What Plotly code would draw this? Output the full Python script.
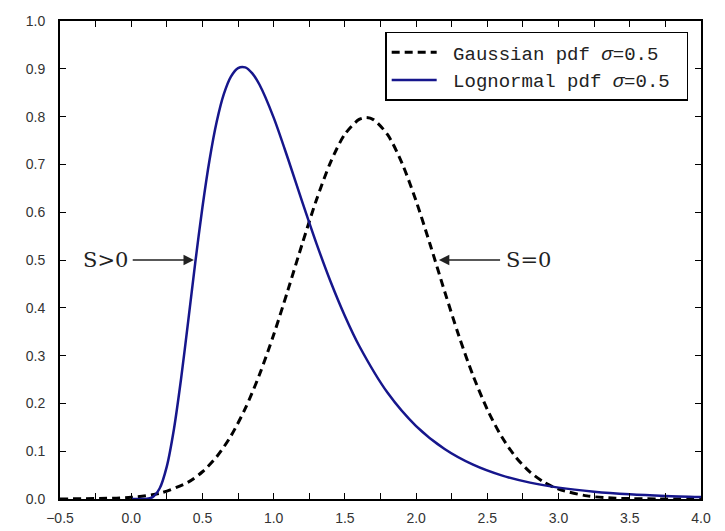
import plotly.graph_objects as go

# Gaussian pdf (sigma = 0.5)
gauss_x = [-0.5, 0.0, 0.2, 0.4, 0.5, 0.6, 0.7, 0.8, 0.9, 1.0, 1.1, 1.2, 1.3, 1.4, 1.5,
           1.6, 1.65, 1.7, 1.8, 1.9, 2.0, 2.1, 2.2, 2.3, 2.4, 2.5, 2.6, 2.7, 2.8, 2.9,
           3.0, 3.2, 3.4, 3.7, 4.0]
gauss_y = [0.0001, 0.0035, 0.0120, 0.0353, 0.0570, 0.0884, 0.1319, 0.1889, 0.2598, 0.3437,
           0.4369, 0.5334, 0.6256, 0.7049, 0.7633, 0.7941, 0.7979, 0.7937, 0.7622, 0.7033,
           0.6234, 0.5309, 0.4345, 0.3416, 0.2580, 0.1873, 0.1306, 0.0875, 0.0563, 0.0348,
           0.0207, 0.0065, 0.0017, 0.0002, 0.0000]

# Lognormal pdf (sigma = 0.5)
logn_x = [0.0, 0.05, 0.1, 0.15, 0.2, 0.25, 0.3, 0.35, 0.4, 0.45, 0.5, 0.55, 0.6, 0.65,
          0.7, 0.75, 0.8, 0.85, 0.9, 1.0, 1.1, 1.2, 1.3, 1.4, 1.5, 1.6, 1.8, 2.0, 2.2,
          2.4, 2.6, 2.8, 3.0, 3.25, 3.5, 3.75, 4.0]
logn_y = [0.0, 0.0, 0.0002, 0.0040, 0.0225, 0.0683, 0.1465, 0.2515, 0.3720, 0.4954,
          0.6104, 0.7098, 0.7891, 0.8469, 0.8837, 0.9015, 0.9029, 0.8905, 0.8671, 0.7979,
          0.7123, 0.6222, 0.5349, 0.4545, 0.3829, 0.3206, 0.2221, 0.1526, 0.1046, 0.0718,
          0.0494, 0.0342, 0.0238, 0.0153, 0.0099, 0.0065, 0.0043]

x_ticks = [-0.5, 0.0, 0.5, 1.0, 1.5, 2.0, 2.5, 3.0, 3.5, 4.0]
y_ticks = [0.0, 0.1, 0.2, 0.3, 0.4, 0.5, 0.6, 0.7, 0.8, 0.9, 1.0]

NB = "\u00a0"

fig = go.Figure()
fig.add_trace(go.Scatter(
    x=gauss_x, y=gauss_y, mode="lines", name=NB + "Gaussian pdf <i>σ</i>=0.5" + NB,
    line=dict(color="black", width=3, dash="8px,5px", shape="spline", smoothing=0.8),
))
fig.add_trace(go.Scatter(
    x=logn_x, y=logn_y, mode="lines", name=NB + "Lognormal pdf <i>σ</i>=0.5" + NB,
    line=dict(color="#16168c", width=2.5, shape="spline", smoothing=0.8),
))

serif = "DejaVu Serif"
# arrows
fig.add_annotation(x=0.44, y=0.5, ax=0.0, ay=0.5, xref="x", yref="y", axref="x", ayref="y",
                   showarrow=True, arrowhead=2, arrowsize=1.6, arrowwidth=1.3,
                   arrowcolor="#222", text="")
fig.add_annotation(x=2.16, y=0.5, ax=2.6, ay=0.5, xref="x", yref="y", axref="x", ayref="y",
                   showarrow=True, arrowhead=2, arrowsize=1.6, arrowwidth=1.3,
                   arrowcolor="#222", text="")
fig.add_annotation(x=-0.01, y=0.5, xref="x", yref="y", text="S>0", showarrow=False,
                   xanchor="right", font=dict(family=serif, size=21, color="#222"))
fig.add_annotation(x=2.62, y=0.5, xref="x", yref="y", text="S=0", showarrow=False,
                   xanchor="left", font=dict(family=serif, size=21, color="#222"))

axis_common = dict(
    showline=True, linecolor="black", linewidth=2, mirror="ticks",
    ticks="inside", ticklen=6, tickwidth=1.2, tickcolor="black",
    showgrid=False, zeroline=False, automargin=False,
    tickfont=dict(family="Liberation Sans", size=14, color="#333"),
)
fig.update_xaxes(range=[-0.5, 4.0], tickvals=x_ticks, tickformat=".1f", ticklabelstandoff=5,
                 minor=dict(dtick=0.25, ticks="inside", ticklen=6, tickcolor="black", tickwidth=1.2),
                 **axis_common)
fig.update_yaxes(range=[0.0, 1.0], tickvals=y_ticks, tickformat=".1f", ticklabelstandoff=10,
                 **axis_common)

fig.update_layout(
    width=725, height=531,
    margin=dict(l=60, r=24, t=21, b=32),
    plot_bgcolor="white", paper_bgcolor="white",
    legend=dict(x=0.98, y=0.977, xanchor="right", yanchor="top",
                bordercolor="black", borderwidth=1.5, bgcolor="white",
                font=dict(family="Liberation Mono", size=19, color="#222"),
                tracegroupgap=0, itemwidth=45),
    showlegend=True,
)

fig.write_html("out.html")
